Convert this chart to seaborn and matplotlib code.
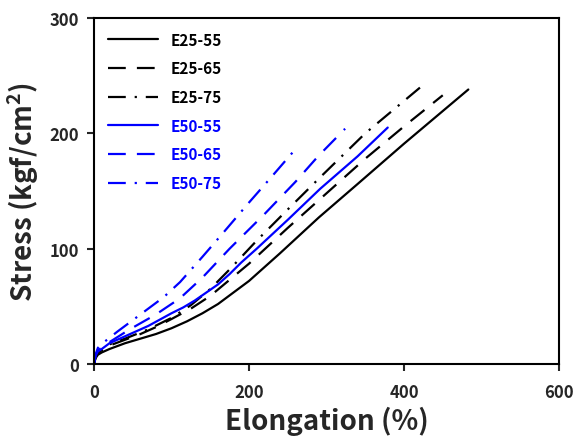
import matplotlib
matplotlib.use("Agg")
import matplotlib.pyplot as plt
import seaborn as sns
import pandas as pd

sns.set_style("white")
FONT = "Noto Sans CJK KR"
plt.rcParams['font.family'] = [FONT, 'DejaVu Sans']
plt.rcParams['font.weight'] = 'bold'
plt.rcParams['mathtext.fontset'] = 'custom'
plt.rcParams['mathtext.bf'] = FONT + ':bold'
plt.rcParams['mathtext.rm'] = FONT

# Data
e25_55_x = [0, 2, 5, 10, 20, 40, 60, 80, 100, 120, 140, 160, 180, 200, 240, 290, 340, 400, 483]
e25_55_y = [0, 5, 8, 10, 13, 18, 22, 26, 31, 37, 44, 52, 62, 72, 96, 127, 156, 191, 238]

e25_65_x = [0, 2, 5, 10, 20, 40, 60, 80, 100, 125, 150, 175, 200, 250, 300, 350, 400, 450]
e25_65_y = [0, 6, 10, 12, 16, 21, 26, 32, 39, 48, 59, 73, 87, 118, 148, 178, 206, 233]

e25_75_x = [0, 2, 5, 10, 20, 40, 70, 100, 125, 150, 175, 210, 250, 292, 350, 423]
e25_75_y = [0, 6, 10, 12, 17, 22, 30, 40, 51, 65, 82, 107, 134, 162, 200, 241]

e50_55_x = [0, 2, 5, 10, 20, 40, 70, 100, 115, 130, 145, 160, 175, 190, 210, 250, 292, 340, 379]
e50_55_y = [0, 7, 11, 13, 18, 24, 33, 44, 49, 55, 62, 69, 78, 88, 100, 125, 152, 180, 205]

e50_65_x = [0, 2, 5, 10, 20, 46, 80, 111, 140, 175, 220, 260, 289, 324]
e50_65_y = [0, 8, 12, 14, 19, 30, 43, 57, 75, 100, 130, 158, 180, 204]

e50_75_x = [0, 2, 5, 13, 30, 46, 64, 90, 111, 140, 167, 200, 230, 257]
e50_75_y = [0, 8, 14, 19, 28, 36, 45, 58, 71, 93, 114, 140, 163, 184]

series_names = ["E25-55", "E25-65", "E25-75", "E50-55", "E50-65", "E50-75"]
series_x = [e25_55_x, e25_65_x, e25_75_x, e50_55_x, e50_65_x, e50_75_x]
series_y = [e25_55_y, e25_65_y, e25_75_y, e50_55_y, e50_65_y, e50_75_y]

colors = ["black", "black", "black", "#0000ff", "#0000ff", "#0000ff"]
dashes = [(None, None), (8, 5), (8, 4, 1, 4), (None, None), (8, 5), (8, 4, 1, 4)]

fig = plt.figure(figsize=(5.78, 4.39), dpi=100)
ax = fig.add_axes([94/578, 74/439, (559-94)/578, (365-19)/439])

for name, xs, ys, c, d in zip(series_names, series_x, series_y, colors, dashes):
    df = pd.DataFrame({"x": xs, "y": ys})
    sns.lineplot(data=df, x="x", y="y", ax=ax, color=c, lw=1.6, label=name)
    l = ax.get_lines()[-1]
    if d[0] is not None:
        l.set_dashes(d)

ax.set_xlim(0, 600)
ax.set_ylim(0, 300)
ax.set_xticks([0, 200, 400, 600])
ax.set_yticks([0, 100, 200, 300])
for s in ax.spines.values():
    s.set_visible(True)
    s.set_color("black")
    s.set_linewidth(1.5)
ax.tick_params(axis="both", direction="out", length=5, width=1.5, labelsize=12,
               bottom=True, left=True, top=False, right=False)
ax.tick_params(axis="x", pad=9)
ax.tick_params(axis="y", pad=6)
for t in ax.get_xticklabels() + ax.get_yticklabels():
    t.set_fontweight("bold")

ax.set_xlabel("Elongation (%)", fontsize=20, fontweight="bold", labelpad=3)
ax.set_ylabel("Stress (kgf/cm$\\mathbf{^2}$)", fontsize=20, fontweight="bold", labelpad=6)

leg = ax.legend(loc="upper left", frameon=False, handlelength=3.3,
                labelspacing=0.83, borderaxespad=0.5, handletextpad=0.8,
                prop={"family": [FONT, "DejaVu Sans"], "weight": "bold", "size": 11})
for txt, c in zip(leg.get_texts(), colors):
    txt.set_color(c)
for h, d in zip(leg.get_lines(), dashes):
    if d[0] is not None:
        h.set_dashes(d)

fig.savefig("out.png", dpi=100)
